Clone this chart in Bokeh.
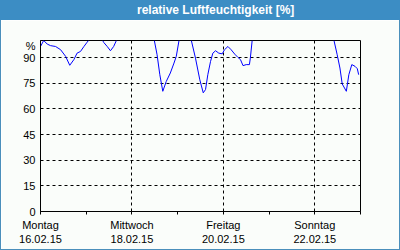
from bokeh.plotting import figure
from bokeh.models import FixedTicker, Range1d, Div
from bokeh.layouts import column, row
from bokeh.embed import file_html
from bokeh.resources import INLINE

nan = float("nan")

# ---- data (days since Mon 16.02.15 00:00, relative humidity in %) ----
# nan = curve above the visible top of the chart
tage = [0.00, 0.07, 0.147, 0.22, 0.33, 0.44, 0.55, 0.64, 0.73, 0.80, 0.875, 0.95,
        1.02, 1.05, 1.20, 1.36, 1.385, 1.46, 1.53, 1.60, 1.66,
        2.00, 2.49, 2.55, 2.61, 2.675, 2.75, 2.84, 2.92, 2.97, 3.03,
        3.15, 3.30, 3.39, 3.485, 3.56, 3.61, 3.66, 3.72, 3.77, 3.83, 3.90, 3.975,
        4.025, 4.10, 4.17, 4.25, 4.32, 4.375, 4.43, 4.50, 4.57, 4.59, 4.63,
        5.50, 6.42, 6.49, 6.55, 6.60, 6.69, 6.745, 6.81, 6.88, 6.93, 6.96]
feuchte = [96.5, 100, 97.9, 97.0, 96.5, 94.6, 90.7, 85.5, 88.8, 92.6, 93.6, 96.5,
           99.0, 100, nan, 100, 98.8, 96.5, 94.0, 96.5, 100,
           nan, 100, 91.7, 80.0, 70.3, 76.0, 81.0, 86.8, 90.7, 100,
           nan, 100, 89.7, 77.0, 69.4, 71.3, 80.0, 87.8, 92.6, 94.0, 92.6, 92.2,
           94.6, 96.5, 94.6, 92.0, 90.1, 88.8, 85.3, 85.9, 85.9, 89.7, 100,
           nan, 100, 91.7, 83.9, 74.6, 70.3, 80.0, 85.9, 84.9, 83.5, 80.0]

x_ticks = [0, 1, 2, 3, 4, 5, 6, 7]
x_labels = {0: "Montag\n16.02.15", 1: "", 2: "Mittwoch\n18.02.15", 3: "",
            4: "Freitag\n20.02.15", 5: "", 6: "Sonntag\n22.02.15", 7: ""}
y_ticks = [0, 15, 30, 45, 60, 75, 90, 97]
y_labels = {97: "%"}
titel = "relative Luftfeuchtigkeit [%]"

FONT = "Liberation Sans"
BG = "#fafdfa"
BLUE = "#3c8dc4"
EDGE = "#4a8fbb"

p = figure(width=398, height=229, output_backend="svg", toolbar_location=None,
           x_range=Range1d(0, 7), y_range=Range1d(0, 100),
           min_border_left=39, min_border_right=39, min_border_top=20,
           min_border_bottom=38, margin=0)
p.background_fill_color = BG
p.border_fill_color = BG
p.outline_line_color = "black"
p.outline_line_width = 1

p.line(tage, feuchte, line_color="#0000ff", line_width=1)

# axes
p.xaxis.ticker = FixedTicker(ticks=x_ticks)
p.xaxis.major_label_overrides = x_labels
p.xaxis.minor_tick_line_color = None
p.xaxis.major_tick_in = 0
p.xaxis.major_tick_out = 3
p.xaxis.major_label_standoff = 4
p.yaxis.ticker = FixedTicker(ticks=y_ticks)
p.yaxis.major_label_overrides = y_labels
p.yaxis.minor_tick_line_color = None
p.yaxis.major_tick_in = 0
p.yaxis.major_tick_out = 0
p.yaxis.major_label_standoff = 5
for ax in (p.xaxis, p.yaxis):
    ax.axis_line_color = "black"
    ax.major_tick_line_color = "black"
    ax.major_label_text_font = FONT
    ax.major_label_text_font_size = "11px"
    ax.major_label_text_color = "black"

# grids
p.xgrid.ticker = FixedTicker(ticks=[2, 4, 6])
p.ygrid.ticker = FixedTicker(ticks=[15, 30, 45, 60, 75, 90])
for g in (p.xgrid, p.ygrid):
    g.grid_line_color = "black"
    g.grid_line_dash = "3 3"
    g.grid_line_width = 1

head = Div(text=titel, width=400, height=20, margin=0,
           styles={"background-color": BLUE, "color": "white",
                   "font-family": FONT, "font-weight": "bold",
                   "font-size": "12px", "line-height": "20px",
                   "text-indent": "137px", "white-space": "nowrap",
                   "overflow": "hidden"})

def edge(w, h):
    return Div(text="", width=w, height=h, margin=0,
               styles={"background-color": EDGE})

layout = column(head,
                row(edge(1, 229), p, edge(1, 229), spacing=0, margin=0),
                edge(400, 1),
                spacing=0, margin=0)

open("out.html", "w").write(file_html(layout, INLINE))
